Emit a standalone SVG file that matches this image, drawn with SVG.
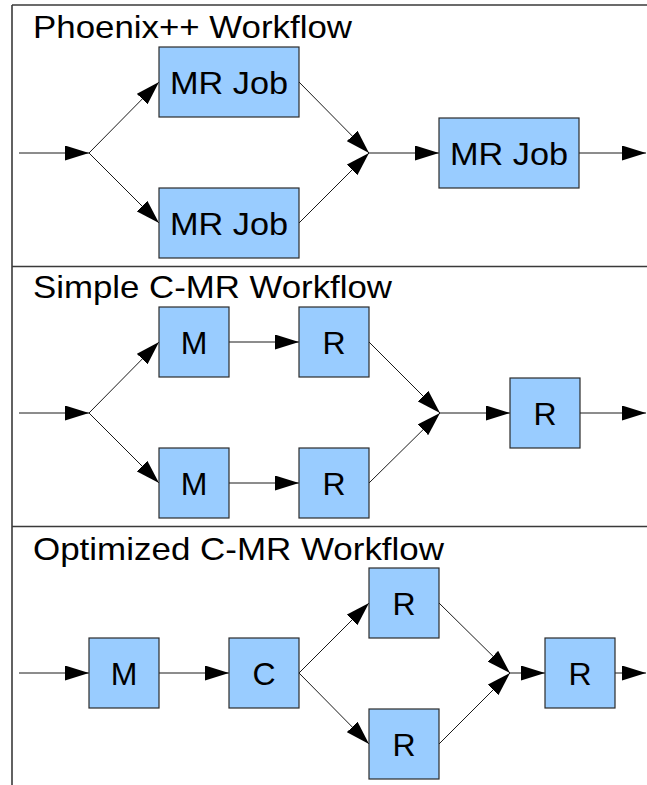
<svg xmlns="http://www.w3.org/2000/svg" width="647" height="785" viewBox="0 0 647 785">
  <defs>
    <marker id="arrow" markerUnits="userSpaceOnUse" markerWidth="24" markerHeight="15" refX="24" refY="7.5" orient="auto">
      <path d="M0,0 L24,7.5 L0,15 Z" fill="#000"/>
    </marker>
    <style>
      .frame { stroke: #3a3a3a; stroke-width: 1.6; fill: none; }
      .box { fill: #99ccff; stroke: #2b2b2b; stroke-width: 1.2; }
      .lbl { font-family: "Liberation Sans", Arial, sans-serif; font-size: 32px; fill: #000; text-anchor: middle; }
      .title { font-family: "Liberation Sans", Arial, sans-serif; font-size: 32px; fill: #000; }
      .edge { stroke: #1a1a1a; stroke-width: 1; fill: none; marker-end: url(#arrow); }
    </style>
  </defs>

  <rect width="647" height="785" fill="#fff"/>

  <!-- panel frame -->
  <g id="frame">
    <line class="frame" x1="12" y1="5" x2="12" y2="785"/>
    <line class="frame" x1="12" y1="5" x2="647" y2="5"/>
    <line class="frame" x1="12" y1="266.5" x2="647" y2="266.5"/>
    <line class="frame" x1="12" y1="526.5" x2="647" y2="526.5"/>
  </g>

  <!-- section titles -->
  <text id="title-phoenix" class="title" x="33" y="38" textLength="319" lengthAdjust="spacingAndGlyphs">Phoenix++ Workflow</text>
  <text id="title-simple" class="title" x="33" y="298" textLength="359" lengthAdjust="spacingAndGlyphs">Simple C-MR Workflow</text>
  <text id="title-optimized" class="title" x="33" y="560" textLength="411" lengthAdjust="spacingAndGlyphs">Optimized C-MR Workflow</text>

  <!-- connectors -->
  <g id="connectors">
    <!-- Phoenix++ -->
    <line class="edge" x1="19" y1="153" x2="89" y2="153"/>
    <line class="edge" x1="89" y1="153" x2="159" y2="82"/>
    <line class="edge" x1="89" y1="153" x2="159" y2="223"/>
    <line class="edge" x1="299" y1="82" x2="369" y2="153"/>
    <line class="edge" x1="299" y1="223" x2="369" y2="153"/>
    <line class="edge" x1="369" y1="153" x2="439" y2="153"/>
    <line class="edge" x1="579" y1="153" x2="646" y2="153"/>
    <!-- Simple C-MR -->
    <line class="edge" x1="19" y1="413" x2="89" y2="413"/>
    <line class="edge" x1="89" y1="413" x2="159" y2="342"/>
    <line class="edge" x1="89" y1="413" x2="159" y2="483"/>
    <line class="edge" x1="229" y1="342" x2="299" y2="342"/>
    <line class="edge" x1="229" y1="483" x2="299" y2="483"/>
    <line class="edge" x1="369" y1="342" x2="440" y2="413"/>
    <line class="edge" x1="369" y1="483" x2="440" y2="413"/>
    <line class="edge" x1="440" y1="413" x2="510" y2="413"/>
    <line class="edge" x1="580" y1="413" x2="646" y2="413"/>
    <!-- Optimized C-MR -->
    <line class="edge" x1="19" y1="673" x2="89" y2="673"/>
    <line class="edge" x1="159" y1="673" x2="229" y2="673"/>
    <line class="edge" x1="299" y1="673" x2="369" y2="603"/>
    <line class="edge" x1="299" y1="673" x2="369" y2="744"/>
    <line class="edge" x1="439" y1="603" x2="510" y2="673"/>
    <line class="edge" x1="439" y1="744" x2="510" y2="673"/>
    <line class="edge" x1="510" y1="673" x2="545" y2="673"/>
    <line class="edge" x1="615" y1="673" x2="646" y2="673"/>
  </g>

  <!-- Phoenix++ nodes -->
  <g id="p-job-top">
    <rect class="box" x="159" y="47" width="140" height="70"/>
    <text class="lbl" x="229" y="94" textLength="118" lengthAdjust="spacingAndGlyphs">MR Job</text>
  </g>
  <g id="p-job-bottom">
    <rect class="box" x="159" y="188" width="140" height="70"/>
    <text class="lbl" x="229" y="235" textLength="118" lengthAdjust="spacingAndGlyphs">MR Job</text>
  </g>
  <g id="p-job-final">
    <rect class="box" x="439" y="118" width="140" height="70"/>
    <text class="lbl" x="509" y="165" textLength="118" lengthAdjust="spacingAndGlyphs">MR Job</text>
  </g>

  <!-- Simple C-MR nodes -->
  <g id="s-map-top">
    <rect class="box" x="159" y="307" width="70" height="70"/>
    <text class="lbl" x="194" y="354">M</text>
  </g>
  <g id="s-map-bottom">
    <rect class="box" x="159" y="448" width="70" height="70"/>
    <text class="lbl" x="194" y="495">M</text>
  </g>
  <g id="s-reduce-top">
    <rect class="box" x="299" y="307" width="70" height="70"/>
    <text class="lbl" x="334" y="354">R</text>
  </g>
  <g id="s-reduce-bottom">
    <rect class="box" x="299" y="448" width="70" height="70"/>
    <text class="lbl" x="334" y="495">R</text>
  </g>
  <g id="s-reduce-final">
    <rect class="box" x="510" y="378" width="70" height="70"/>
    <text class="lbl" x="545" y="425">R</text>
  </g>

  <!-- Optimized C-MR nodes -->
  <g id="o-map">
    <rect class="box" x="89" y="638" width="70" height="70"/>
    <text class="lbl" x="124" y="685">M</text>
  </g>
  <g id="o-combine">
    <rect class="box" x="229" y="638" width="70" height="70"/>
    <text class="lbl" x="264" y="685">C</text>
  </g>
  <g id="o-reduce-top">
    <rect class="box" x="369" y="568" width="70" height="70"/>
    <text class="lbl" x="404" y="615">R</text>
  </g>
  <g id="o-reduce-bottom">
    <rect class="box" x="369" y="709" width="70" height="70"/>
    <text class="lbl" x="404" y="756">R</text>
  </g>
  <g id="o-reduce-final">
    <rect class="box" x="545" y="638" width="70" height="70"/>
    <text class="lbl" x="580" y="685">R</text>
  </g>
</svg>
